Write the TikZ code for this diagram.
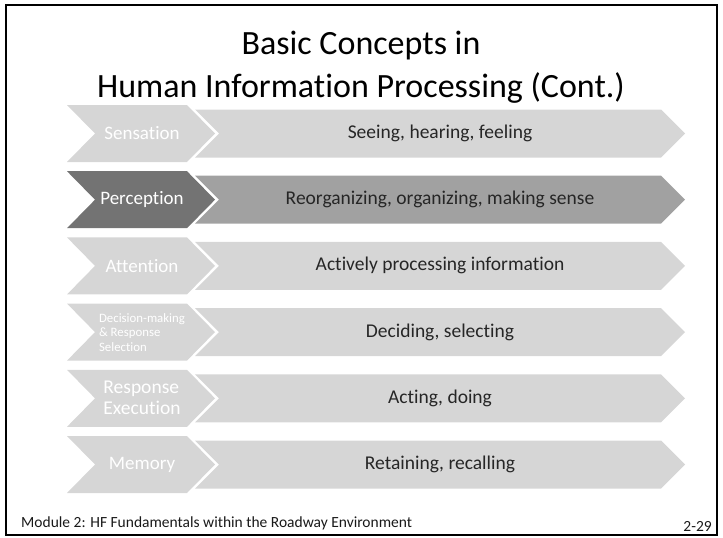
\documentclass[tikz,border=0pt]{standalone}
\usepackage{fontspec}
\setmainfont{Carlito}[RawFeature=-liga]
\usepackage{tikz}
\def\rowgap{66.2}
\definecolor{palegray}{gray}{0.84}
\definecolor{darkstage}{gray}{0.45}
\definecolor{darkbar}{gray}{0.63}
\tikzset{
  title/.style={anchor=base, inner sep=0pt, font=\fontsize{34}{40}\selectfont},
  stage/.style={inner sep=0pt, align=left, text=white},
  onelabel/.style={font=\fontsize{19}{21}\selectfont},
  twolabel/.style={font=\fontsize{19.5}{21}\selectfont},
  threelabel/.style={font=\fontsize{12.8}{14.5}\selectfont},
  detail/.style={inner sep=0pt, text=black!85, font=\fontsize{19.5}{23}\selectfont},
  footnote/.style={inner sep=0pt, font=\fontsize{15.5}{18}\selectfont, text=black!90}
}

\begin{document}
\begin{tikzpicture}[x=1pt, y=-1pt]
\useasboundingbox (0,0) rectangle (723,538);
\draw[line width=1.5pt] (6,5) rectangle (717,535);

\node[title] (head) at (361,54) {Basic Concepts in};
\node[title] (subhead) at (361,97) {Human Information Processing (Cont.)};

% chevron rows
\foreach \i/\lsty/\lcol/\rcol/\lab/\txt in {
    0/onelabel/palegray/palegray/{Sensation}/{Seeing, hearing, feeling},
    1/onelabel/darkstage/darkbar/{Perception}/{Reorganizing, organizing, making sense},
    2/onelabel/palegray/palegray/{Attention}/{Actively processing information},
    3/threelabel/palegray/palegray/{Decision-making\\\& Response\\Selection}/{Deciding, selecting},
    4/twolabel/palegray/palegray/{Response\\Execution}/{Acting, doing},
    5/onelabel/palegray/palegray/{Memory}/{Retaining, recalling}}{
    \pgfmathsetmacro\c{133.5 + \rowgap*\i}
    % stage chevron
    \fill[\lcol] (67,\c-28.5) -- (187,\c-28.5) -- (215,\c) -- (187,\c+28.5)
        -- (67,\c+28.5) -- (95,\c) -- cycle;
    % long arrow
    \fill[\rcol] (195,\c-24) -- (661,\c-24) -- (685,\c) -- (661,\c+24)
        -- (195,\c+24) -- (219,\c) -- cycle;
    \node[stage, \lsty] (stage\i) at (142,\c) {\lab};
    \node[detail] (detail\i) at (440,\c) {\txt};
}

\node[footnote, anchor=base west] (module) at (21,527) {Module 2: HF Fundamentals within the Roadway Environment};
\node[footnote, anchor=base east] (page) at (712,531) {2-29};

\end{tikzpicture}
\end{document}
